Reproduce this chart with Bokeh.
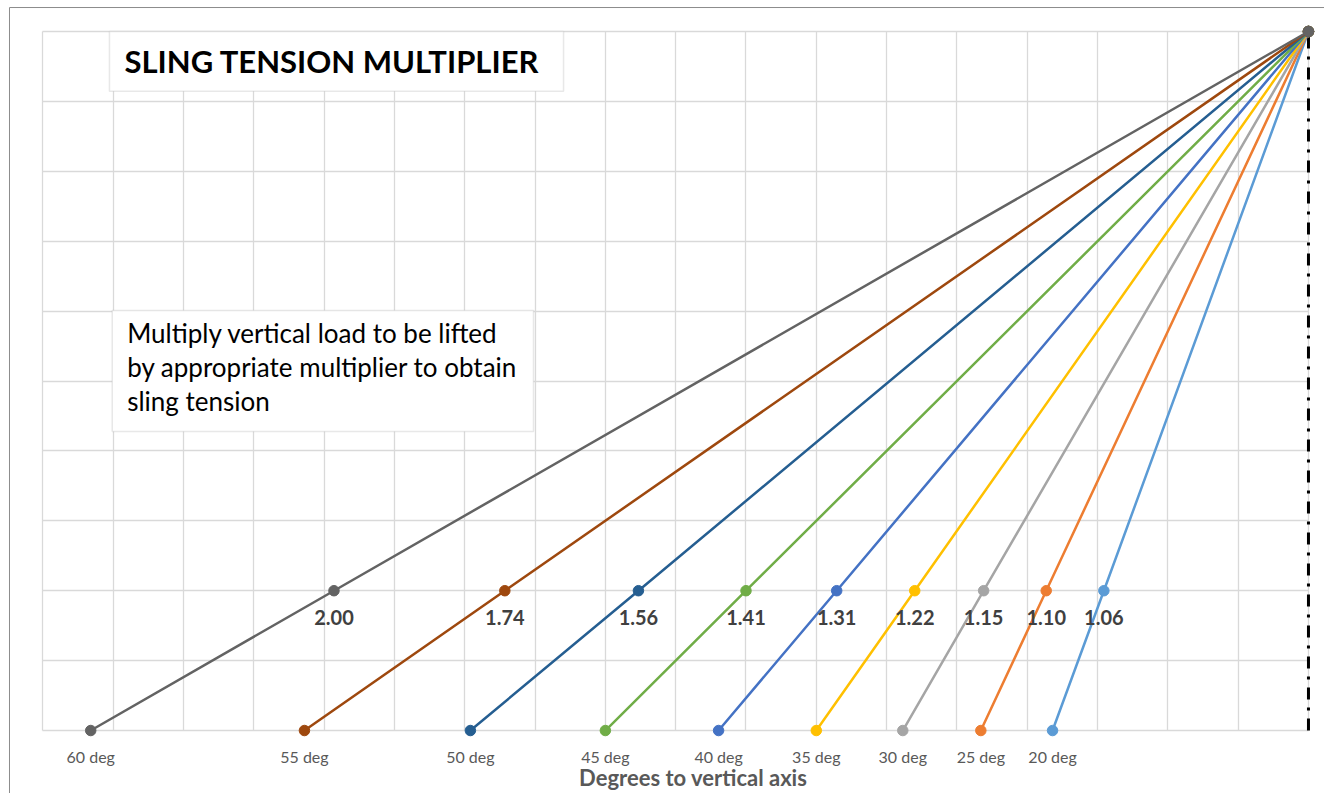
from bokeh.plotting import figure
from bokeh.models import Range1d, Grid, FixedTicker, BoxAnnotation, Label
from bokeh.core.properties import value
from bokeh.embed import file_html
from bokeh.resources import INLINE

# ---- data ----
angles = ["60 deg", "55 deg", "50 deg", "45 deg", "40 deg", "35 deg", "30 deg", "25 deg", "20 deg"]
multipliers = ["2.00", "1.74", "1.56", "1.41", "1.31", "1.22", "1.15", "1.10", "1.06"]
base_x = [0.68, 3.72, 6.08, 8.00, 9.61, 11.00, 12.23, 13.34, 14.36]
mid_x = [4.14, 6.57, 8.47, 10.00, 11.29, 12.40, 13.38, 14.27, 15.09]
base_y = 0
mid_y = 2
apex_x = 18
apex_y = 10
colors = ["#636363", "#9E480E", "#255E91", "#70AD47", "#4472C4",
          "#FFC000", "#A5A5A5", "#ED7D31", "#5B9BD5"]
x_grid_ticks = list(range(0, 19))
y_grid_ticks = list(range(0, 11))

FONT = "Lato"

X0, X1 = -0.603, 18.228
Y0, Y1 = -0.901, 10.4435

p = figure(width=1324, height=793, output_backend="svg", toolbar_location=None,
           x_range=Range1d(X0, X1), y_range=Range1d(Y0, Y1),
           x_axis_location=None, y_axis_location=None, min_border=0)
p.center = []
p.background_fill_color = "white"
p.border_fill_color = "white"
p.outline_line_color = None

gx = Grid(dimension=0, ticker=FixedTicker(ticks=x_grid_ticks), bounds=(-0.01, 18.01),
          cross_bounds=(0, 10), grid_line_color="#d9d9d9", grid_line_width=1.3)
gy = Grid(dimension=1, ticker=FixedTicker(ticks=y_grid_ticks), bounds=(-0.01, 10.01),
          cross_bounds=(0, 18), grid_line_color="#d9d9d9", grid_line_width=1.3)
p.add_layout(gx)
p.add_layout(gy)

# chart-area border (top and left edges; the rest is cropped in the reference)
p.line([-0.475, -0.475, X1 + 1], [Y0 - 1, 10.343, 10.343],
       line_color="#8c8c8c", line_width=1)

# vertical reference (dash-dot)
p.line([apex_x, apex_x], [base_y, apex_y], line_color="black", line_width=3,
       line_dash="12 8 3 8")

# series, drawn 20 deg first so that 60 deg ends on top (as in Excel)
for i in reversed(range(len(angles))):
    xs = [base_x[i], mid_x[i], apex_x]
    ys = [base_y, mid_y, apex_y]
    p.line(xs, ys, line_color=colors[i], line_width=2.5)
    p.scatter(xs, ys, size=10.5, fill_color=colors[i], line_color=colors[i])

# multiplier labels under the middle points
p.text(x=mid_x, y=[mid_y - 0.385] * len(mid_x), text=multipliers,
       text_align="center", text_baseline="alphabetic",
       text_font=value(FONT), text_font_style="bold", text_font_size="20px",
       text_color="#404040")

# category labels under the base points
p.text(x=base_x, y=[base_y - 0.372] * len(base_x), text=angles,
       text_align="center", text_baseline="alphabetic",
       text_font=value(FONT), text_font_size="16px", text_color="#595959")

# axis title
p.text(x=[9.25], y=[-0.665], text=["Degrees to vertical axis"],
       text_align="center", text_baseline="alphabetic",
       text_font=value(FONT), text_font_style="bold", text_font_size="22px",
       text_color="#595959")

# title box
p.add_layout(BoxAnnotation(left=0.947, right=7.405, top=10.0, bottom=9.146,
                           fill_color="white", fill_alpha=1.0,
                           line_color="#b4b4b4", line_width=1.5))
p.add_layout(Label(x=1.16, y=9.571, text="SLING TENSION MULTIPLIER",
                   text_font=FONT, text_font_style="bold", text_font_size="31px",
                   text_color="black", text_baseline="alphabetic"))

# note box
p.add_layout(BoxAnnotation(left=0.986, right=6.978, top=6.009, bottom=4.278,
                           fill_color="white", fill_alpha=1.0,
                           line_color="#b4b4b4", line_width=1.5))
note_lines = ["Multiply vertical load to be lifted",
              "by appropriate multiplier to obtain",
              "sling tension"]
for line_text, yy in zip(note_lines, [5.684, 5.197, 4.721]):
    p.add_layout(Label(x=1.199, y=yy, text=line_text, text_font=FONT,
                       text_font_size="26px", text_color="black",
                       text_baseline="alphabetic"))

open("out.html", "w").write(file_html(p, INLINE))
